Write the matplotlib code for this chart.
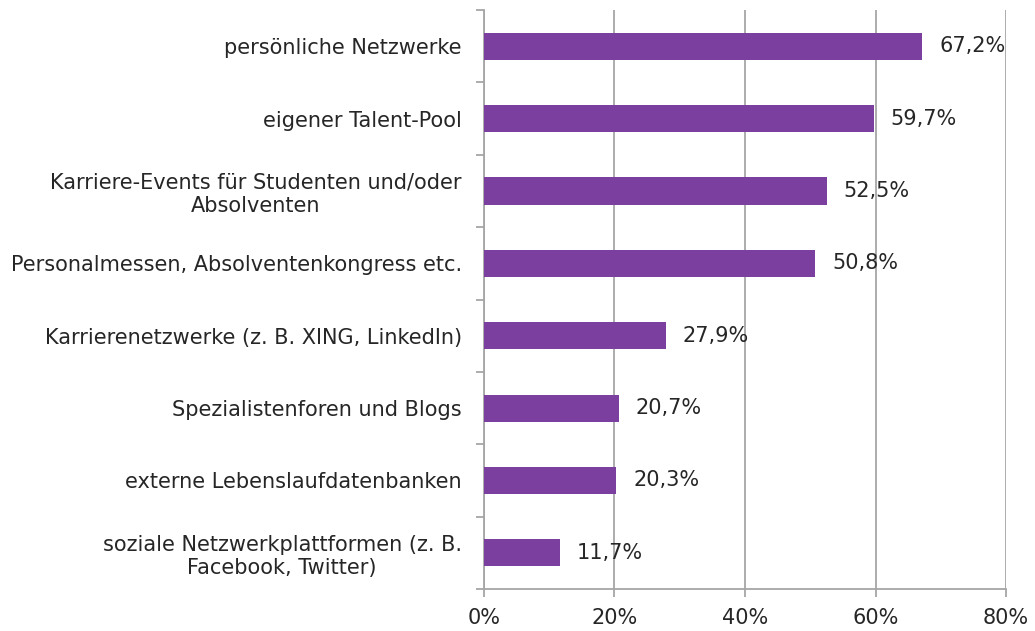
import matplotlib.pyplot as plt
from matplotlib.ticker import FixedLocator, NullFormatter

plt.rcParams['font.family'] = ['DejaVu Sans']

categories = [
    'persönliche Netzwerke',
    'eigener Talent-Pool',
    'Karriere-Events für Studenten und/oder\nAbsolventen',
    'Personalmessen, Absolventenkongress etc.',
    'Karrierenetzwerke (z. B. XING, LinkedIn)',
    'Spezialistenforen und Blogs',
    'externe Lebenslaufdatenbanken',
    'soziale Netzwerkplattformen (z. B.\nFacebook, Twitter)',
]
values = [67.2, 59.7, 52.5, 50.8, 27.9, 20.7, 20.3, 11.7]
xticks = [0, 20, 40, 60, 80]

bar_color = '#7B3FA0'
grid_color = '#A6A6A6'
text_color = '#262626'

fig = plt.figure(figsize=(10.35, 6.31), dpi=100)
ax = fig.add_axes([0.4676, 0.0666, 0.5044, 0.9174])

n = len(categories)
pos = list(range(n))[::-1]
ax.barh(pos, values, height=0.375, color=bar_color, zorder=3)

for p, v in zip(pos, values):
    ax.annotate(f'{v:.1f}%'.replace('.', ','), (v, p), xytext=(12, 0),
                textcoords='offset points', va='center', ha='left',
                fontsize=15, color=text_color)

ax.set_xlim(0, 80)
ax.set_ylim(-0.5, n - 0.5)
ax.set_xticks(xticks)
ax.set_xticklabels([f'{t}%' for t in xticks], fontsize=15, color=text_color)
ax.xaxis.grid(True, color=grid_color, linewidth=1.3, zorder=0)

ax.set_yticks(pos)
ax.set_yticklabels(categories, fontsize=15, color=text_color, multialignment='center')
ax.tick_params(axis='y', length=0, pad=16)
ax.yaxis.set_minor_locator(FixedLocator([i - 0.5 for i in range(n + 1)]))
ax.yaxis.set_minor_formatter(NullFormatter())
ax.tick_params(axis='y', which='minor', length=6, width=1.3, color=grid_color)
ax.tick_params(axis='x', length=6, width=1.3, color=grid_color, pad=8)

for s in ['top', 'right']:
    ax.spines[s].set_visible(False)
for s in ['left', 'bottom']:
    ax.spines[s].set_color(grid_color)
    ax.spines[s].set_linewidth(1.3)

fig.savefig('out.png', dpi=100)
